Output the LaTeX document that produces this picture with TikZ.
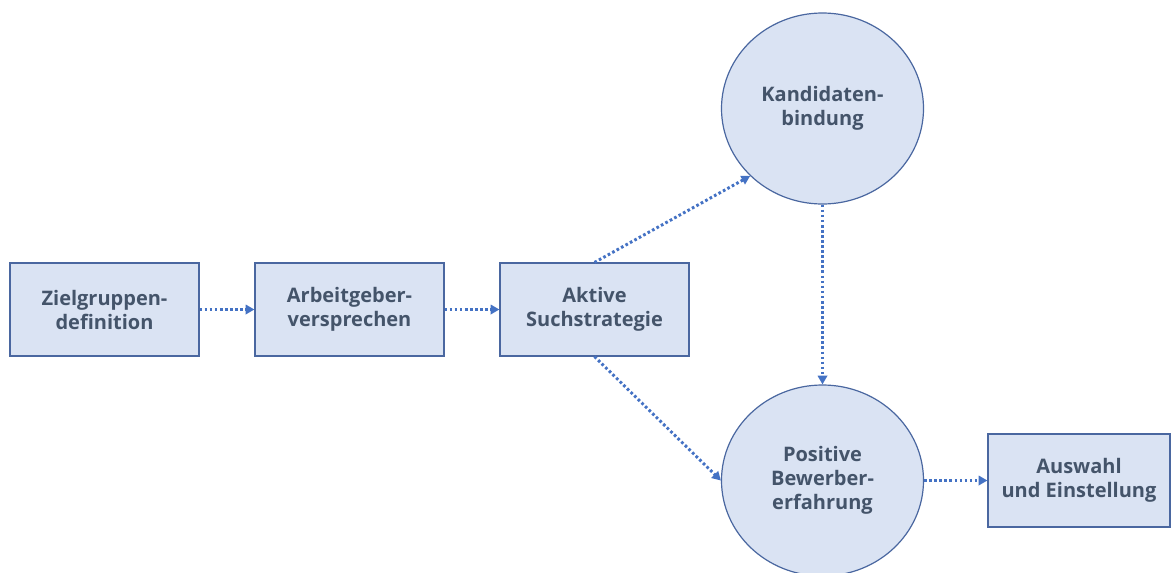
\documentclass[tikz,border=0pt]{standalone}
\usepackage{fontspec}
\setmainfont{Open Sans}
\usetikzlibrary{shapes.geometric,arrows.meta}
\definecolor{boxfill}{HTML}{DAE3F3}
\definecolor{boxline}{HTML}{4A67A0}
\definecolor{txt}{HTML}{44546A}
\definecolor{arr}{HTML}{4472C4}
\tikzset{
  base/.style={draw=boxline, line width=0.9pt, fill=boxfill, text=txt, align=center,
    font=\bfseries\fontsize{15}{18}\selectfont, inner sep=0pt},
  stepbox/.style={base, rectangle, minimum width=141.75pt, minimum height=69.75pt},
  lastbox/.style={base, rectangle, minimum width=136.5pt, minimum height=69.75pt},
  bubble/.style={base, ellipse, minimum width=151.5pt, minimum height=143.25pt},
  conn/.style={draw=arr, line width=2.2pt, dash pattern=on 2pt off 1.8pt,
    -{Triangle[length=6.5pt,width=7pt]}}
}
\begin{document}
\begin{tikzpicture}[x=0.75pt,y=-0.75pt]
\useasboundingbox (0,0) rectangle (1171,572);
\node[stepbox] (b1) at (104.5,309.5) {Zielgruppen-\\definition};
\node[stepbox] (b2) at (349.5,309.5) {Arbeitgeber-\\versprechen};
\node[stepbox] (b3) at (594.5,309.5) {Aktive\\Suchstrategie};
\node[bubble] (c1) at (822.5,108.5) {Kandidaten-\\bindung};
\node[bubble] (c2) at (822.5,480.5) {Positive\\Bewerber-\\erfahrung};
\node[lastbox] (b4) at (1079,480.5) {Auswahl\\und Einstellung};
\draw[conn] (b1.east) -- (b2.west);
\draw[conn] (b2.east) -- (b3.west);
\draw[conn] (b3.north) -- (c1.223);
\draw[conn] (b3.south) -- (c2.west);
\draw[conn] (c1.south) -- (c2.north);
\draw[conn] (c2.east) -- (b4.west);
\end{tikzpicture}
\end{document}
